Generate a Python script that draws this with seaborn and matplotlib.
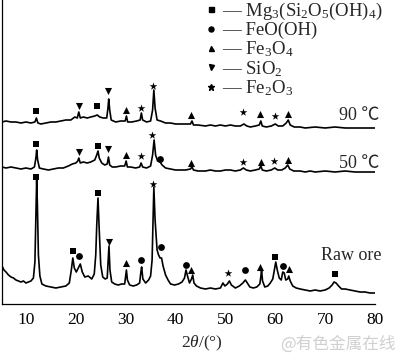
import numpy as np
import pandas as pd
import seaborn as sns
import matplotlib
matplotlib.use("Agg")
import matplotlib.pyplot as plt
from matplotlib.lines import Line2D

# ---------------- data (2theta in degrees, intensity in arbitrary units, stacked) ----------------
raw_x = [5.2, 5.6, 6.0, 6.5, 7.0, 7.5, 8.0, 8.5, 9.0, 9.5, 10.0, 10.5, 11.0, 11.5, 11.8, 12.0, 12.15, 12.3,
         12.5, 12.8, 13.2, 14.0, 15.0, 16.0, 17.0, 18.0, 18.7, 19.1, 19.4, 19.7, 20.1, 20.5, 20.9, 21.3,
         21.8, 22.5, 23.2, 23.7, 24.0, 24.2, 24.45, 24.7, 25.0, 25.4, 25.9, 26.3, 26.5, 26.65, 26.85,
         27.2, 27.8, 28.5, 29.2, 29.8, 30.0, 30.15, 30.35, 30.8, 31.5, 32.2, 32.8, 33.05, 33.2, 33.45,
         34.0, 34.6, 35.0, 35.3, 35.5, 35.65, 35.9, 36.3, 36.6, 36.9, 37.2, 37.5, 38.0, 38.5, 39.0,
         39.8, 40.6, 41.3, 41.8, 42.1, 42.4, 42.8, 43.2, 43.45, 43.7, 44.2, 45.0, 46.0, 47.0, 48.0,
         49.0, 49.5, 49.9, 50.4, 50.8, 51.2, 52.0, 52.8, 53.5, 54.0, 54.4, 54.9, 55.6, 56.3, 56.9,
         57.1, 57.25, 57.45, 57.9, 58.5, 59.0, 59.5, 59.9, 60.1, 60.4, 60.8, 61.2, 61.5, 61.8, 62.1,
         62.5, 62.7, 63.0, 63.5, 64.2, 65.0, 66.0, 67.0, 68.0, 69.0, 70.0, 70.8, 71.4, 71.8, 72.2,
         72.7, 73.3, 74.0, 75.0, 76.0, 77.0, 78.0, 79.0, 80.0]
raw_y = [38, 34, 32, 29, 27, 26, 24, 23, 22, 23, 21, 22, 23, 26, 42, 89, 124, 99,
         49, 28, 20, 18, 17, 16, 17, 18, 21, 34, 46, 36, 32, 36, 40, 32,
         27, 28, 25, 30, 49, 79, 106, 74, 39, 27, 25, 26, 44, 58, 34,
         22, 20, 19, 20, 20, 28, 34, 24, 19, 18, 19, 21, 32, 37, 25,
         21, 24, 28, 44, 84, 117, 84, 54, 49, 46, 46, 38, 29, 24, 20,
         19, 20, 22, 26, 34, 28, 21, 25, 29, 21, 18, 16, 15, 16, 15,
         16, 21, 18, 20, 23, 19, 16, 18, 21, 24, 21, 17, 16, 17, 20,
         27, 34, 23, 17, 18, 21, 25, 36, 42, 34, 26, 24, 32, 31, 24,
         25, 28, 23, 18, 16, 15, 14, 13, 14, 13, 14, 16, 19, 22, 21,
         18, 15, 15, 14, 13, 12, 12, 11, 11]

c50_x = [5.2, 6, 7, 8, 9, 10, 11, 11.7, 12.0, 12.15, 12.35, 12.7, 13.5, 14.5, 15.5, 16.5, 17.5, 18.5,
         19.3, 20.0, 20.4, 20.6, 20.9, 21.5, 22.3, 23.0, 23.8, 24.2, 24.45, 24.7, 25.2, 25.8, 26.3,
         26.55, 26.8, 27.3, 28.0, 29.0, 29.8, 30.1, 30.35, 31.0, 32.0, 32.8, 33.1, 33.4, 34.2, 35.0,
         35.4, 35.7, 36.0, 36.4, 36.9, 37.3, 38.0, 39.0, 40.0, 41.0, 42.0, 43.0, 43.3, 43.6, 44.5,
         46, 47, 48, 49, 50, 51, 52, 53, 53.6, 54.2, 55, 56, 56.8, 57.1, 57.4, 58.2, 59.2, 59.9,
         60.5, 61.3, 62.0, 62.5, 62.9, 63.7, 65, 66, 67, 68, 70, 72, 74, 76, 78, 80]
c50_y = [137, 136, 137, 136, 135, 136, 135, 137, 146, 154, 144, 136, 135, 134, 135, 136, 136, 138,
         140, 141, 143, 146, 141, 142, 141, 142, 144, 149, 153, 146, 141, 139, 140,
         147, 139, 137, 137, 138, 138, 143, 137, 137, 136, 137, 141, 137, 136, 138,
         149, 164, 149, 143, 142, 139, 136, 135, 134, 134, 134, 135, 137, 134, 133,
         133, 134, 133, 133, 134, 134, 133, 134, 136, 134, 133, 134, 135, 138, 134, 133, 134, 136,
         134, 134, 136, 139, 135, 133, 133, 132, 133, 132, 133, 132, 133, 132, 132, 132]

c90_x = [5.2, 6, 7, 8, 9, 10, 11, 11.8, 12.1, 12.4, 13, 14, 15, 16, 17, 18, 19, 19.8, 20.3, 20.6,
         20.9, 21.5, 22.3, 23.0, 23.8, 24.3, 24.8, 25.5, 26.2, 26.45, 26.6, 26.8, 27.1, 28, 29,
         29.9, 30.15, 30.4, 31.2, 32.2, 32.9, 33.15, 33.4, 34.2, 35.0, 35.4, 35.65, 35.9, 36.3,
         37.0, 38, 39, 40, 41, 42, 43, 43.3, 43.6, 44.5, 46, 47, 48, 49, 50, 51, 52, 53, 53.7,
         54.3, 55, 56, 56.8, 57.1, 57.4, 58.2, 59.2, 60.0, 60.6, 61.5, 62.2, 62.6, 63.0, 63.8,
         65, 66, 68, 70, 72, 74, 76, 78, 80]
c90_y = [182, 183, 182, 182, 181, 182, 181, 182, 186, 181, 180, 181, 182, 182, 183, 184, 184, 187, 186, 192,
         186, 187, 186, 187, 188, 189, 187, 186, 186, 196, 205, 194, 184, 182, 183,
         183, 188, 182, 182, 183, 184, 191, 184, 182, 183, 194, 214, 196, 184,
         183, 181, 181, 180, 180, 180, 180, 183, 179, 179, 178, 179, 178, 179, 178, 179, 178, 178, 180,
         178, 177, 178, 179, 183, 178, 177, 178, 180, 178, 178, 181, 184, 179, 177,
         177, 176, 177, 176, 177, 176, 176, 176, 176]

# phase markers: (phase, 2theta, label height)
mk90_phase = ["Mg", "SiO2", "Mg", "SiO2", "Fe3O4", "Fe2O3", "Fe2O3", "Fe3O4", "Fe2O3", "Fe3O4", "Fe2O3", "Fe3O4"]
mk90_x = [12.0, 20.6, 24.2, 26.5, 30.1, 33.1, 35.5, 43.1, 53.6, 57.0, 60.0, 62.5]
mk90_y = [193, 198, 198, 213, 194, 196, 218, 189, 192, 190, 188, 190]

mk50_phase = ["Mg", "SiO2", "Mg", "SiO2", "Fe3O4", "Fe2O3", "Fe2O3", "FeOOH", "Fe3O4", "Fe2O3", "Fe3O4", "Fe2O3", "Fe3O4"]
mk50_x = [12.0, 20.6, 24.5, 26.5, 30.1, 33.1, 35.3, 36.8, 43.1, 53.5, 57.1, 59.8, 62.5]
mk50_y = [160, 152, 158, 155, 149, 148, 169, 145, 141, 142, 142, 143, 144]

mkraw_phase = ["Mg", "Mg", "FeOOH", "Mg", "SiO2", "Fe3O4", "FeOOH", "Fe2O3", "FeOOH", "FeOOH", "Fe3O4",
               "Fe2O3", "FeOOH", "Fe3O4", "Mg", "FeOOH", "Fe3O4", "Mg"]
mkraw_x = [12.1, 19.4, 20.7, 24.5, 26.6, 30.0, 33.1, 35.4, 37.1, 42.0, 43.2, 50.6, 54.0, 57.0, 60.0, 61.6, 62.8, 72.0]
mkraw_y = [127, 53, 48, 111, 62, 41, 44, 120, 57, 39, 34, 31, 34, 37, 47, 38, 35, 30]

phases = ["Mg", "FeOOH", "Fe3O4", "SiO2", "Fe2O3"]
phase_labels = ["Mg$_3$(Si$_2$O$_5$(OH)$_4$)", "FeO(OH)", "Fe$_3$O$_4$", "SiO$_2$", "Fe$_2$O$_3$"]
sample_labels = ["90 \u2103", "50 \u2103", "Raw ore"]
xticks = [10, 20, 30, 40, 50, 60, 70, 80]

# ---------------- styling ----------------
sns.set_theme(style="white")
plt.rcParams["font.family"] = ["Liberation Serif", "DejaVu Serif"]
plt.rcParams["mathtext.fontset"] = "custom"
plt.rcParams["mathtext.rm"] = "Liberation Serif"
plt.rcParams["mathtext.it"] = "Liberation Serif:italic"
plt.rcParams["mathtext.bf"] = "Liberation Serif:bold"

marker_map = {"Mg": "s", "FeOOH": "o", "Fe3O4": "^", "SiO2": "v", "Fe2O3": "*"}
size_map = {"Mg": 22, "FeOOH": 24, "Fe3O4": 26, "SiO2": 26, "Fe2O3": 34}

fig = plt.figure(figsize=(4.0, 3.55), dpi=100)
ax = fig.add_axes([2 / 400, 51 / 355, 373 / 400, 304 / 355])

for xs, ys in [(raw_x, raw_y), (c50_x, c50_y), (c90_x, c90_y)]:
    d = pd.DataFrame({"x": xs, "y": ys})
    sns.lineplot(data=d, x="x", y="y", ax=ax, color="black", lw=1.2, sort=False, estimator=None)

mk = pd.concat([
    pd.DataFrame({"phase": mk90_phase, "x": mk90_x, "y": mk90_y}),
    pd.DataFrame({"phase": mk50_phase, "x": mk50_x, "y": mk50_y}),
    pd.DataFrame({"phase": mkraw_phase, "x": mkraw_x, "y": mkraw_y}),
])
for ph in phases:
    sub = mk[mk["phase"] == ph]
    sns.scatterplot(data=sub, x="x", y="y", ax=ax, marker=marker_map[ph], s=size_map[ph],
                    color="black", linewidth=0, legend=False, zorder=3)

ax.set_xlim(5.2, 80)
ax.set_ylim(0, 304)
ax.set_xticks(xticks)
ax.set_xticklabels([str(t) for t in xticks])
ax.set_yticks([])
ax.set_ylabel("")
ax.tick_params(axis="x", direction="in", length=4, width=0.8, pad=6, labelsize=12.5, colors="black")
for s in ["top", "right"]:
    ax.spines[s].set_visible(False)
for s in ["left", "bottom"]:
    ax.spines[s].set_color("black")
    ax.spines[s].set_linewidth(0.9)

ax.set_xlabel("2$\\mathit{\\theta}$/(\u00b0)", fontsize=12.5)
ax.xaxis.set_label_coords(0.535, -0.128)
ax.xaxis.label.set_va("center")

# sample labels
ax.text(80.8, 189, sample_labels[0], ha="right", va="center", fontsize=13,
        family=["Liberation Serif", "Noto Sans CJK SC"])
ax.text(80.8, 140.5, sample_labels[1], ha="right", va="center", fontsize=13,
        family=["Liberation Serif", "Noto Sans CJK SC"])
ax.text(69.1, 49, sample_labels[2], ha="left", va="center", fontsize=13)

# legend
handles = [Line2D([], [], ls="none", marker=marker_map[p], color="black",
                  markersize=(5 if p == "Fe2O3" else 3.6)) for p in phases]
labels = ["\u2014 " + l for l in phase_labels]
leg = ax.legend(handles, labels, loc="upper left", bbox_to_anchor=(0.545, 0.997), frameon=False,
                fontsize=13.5, handlelength=0.6, handletextpad=0.3, labelspacing=0.0,
                borderaxespad=0, borderpad=0)

fig.text(0.99, 0.03, "@有色金属在线", ha="right", va="center", fontsize=12, color="#d0d0d0",
         family=["Noto Sans CJK SC", "DejaVu Sans"])

fig.savefig("out.png", dpi=100)
